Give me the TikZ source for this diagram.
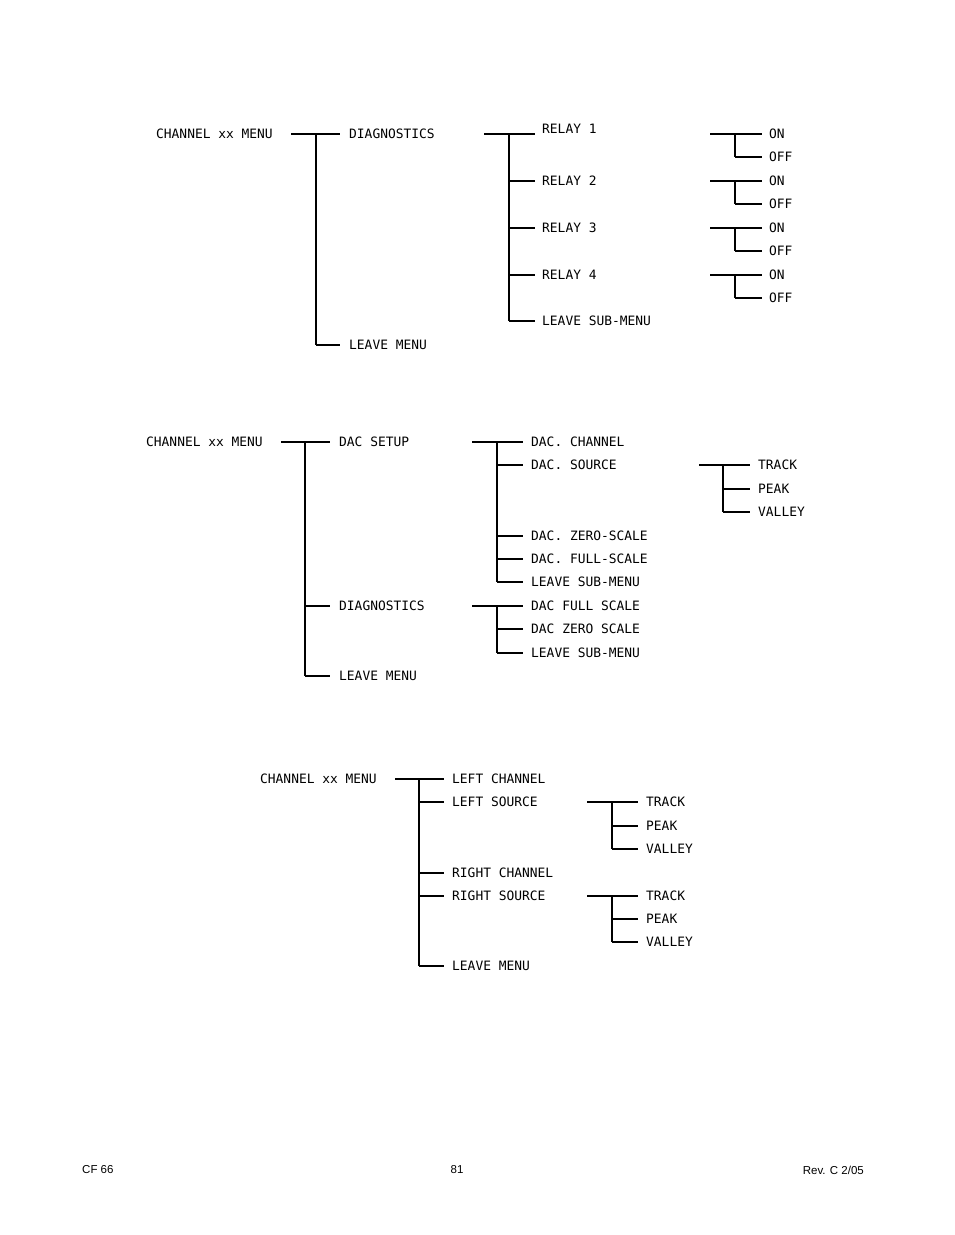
\documentclass[tikz,border=0pt]{standalone}
\usepackage{fontspec}
\newfontfamily\menufont{DejaVu Sans Mono}
\newfontfamily\footfont{Liberation Sans}
\tikzset{
  lbl/.style={anchor=west,inner sep=0pt,font=\menufont\fontsize{12.9}{13}\selectfont},
  ft/.style={inner sep=0pt,font=\footfont\fontsize{11.5}{12}\selectfont},
  tr/.style={line width=1.1pt}
}
\newcommand\fork[6]{%
  \draw[tr] (#1,#4) -- (#3,#4);
  \draw[tr] (#2,#4) -- (#2,#5);
  \foreach \yy in {#6} {\draw[tr] (#2,\yy) -- (#3,\yy);}
}
\begin{document}
\begin{tikzpicture}[x=1pt,y=-1pt]
\useasboundingbox (0,0) rectangle (954,1235);
% ---------- diagram 1
\node[lbl] (a0) at (156,134) {CHANNEL xx MENU};
\fork{291}{316}{340}{134}{345}{345}
\node[lbl] (a1) at (349,134) {DIAGNOSTICS};
\node[lbl] (a2) at (349,345) {LEAVE MENU};
\fork{484}{509}{535}{134}{321}{181,228,275,321}
\node[lbl] (r1) at (542,129) {RELAY 1};
\node[lbl] (r2) at (542,181) {RELAY 2};
\node[lbl] (r3) at (542,228) {RELAY 3};
\node[lbl] (r4) at (542,275) {RELAY 4};
\node[lbl] (r5) at (542,321) {LEAVE SUB-MENU};
\foreach \y [count=\i] in {134,181,228,275} {
  \fork{710}{735}{762}{\y}{\y+23}{\y+23}
  \node[lbl] (on\i) at (769,\y) {ON};
  \node[lbl] (off\i) at (769,\y+23) {OFF};
}
% ---------- diagram 2
\node[lbl] (b0) at (146,442) {CHANNEL xx MENU};
\fork{281}{305}{330}{442}{676}{606,676}
\node[lbl] (b1) at (339,442) {DAC SETUP};
\node[lbl] (b2) at (339,606) {DIAGNOSTICS};
\node[lbl] (b3) at (339,676) {LEAVE MENU};
\fork{472}{497}{523}{442}{582}{465,536,559,582}
\node[lbl] (c1) at (531,442) {DAC. CHANNEL};
\node[lbl] (c2) at (531,465) {DAC. SOURCE};
\node[lbl] (c3) at (531,536) {DAC. ZERO-SCALE};
\node[lbl] (c4) at (531,559) {DAC. FULL-SCALE};
\node[lbl] (c5) at (531,582) {LEAVE SUB-MENU};
\fork{699}{723}{750}{465}{512}{489,512}
\node[lbl] (d1) at (758,465) {TRACK};
\node[lbl] (d2) at (758,489) {PEAK};
\node[lbl] (d3) at (758,512) {VALLEY};
\fork{472}{497}{523}{606}{653}{629,653}
\node[lbl] (e1) at (531,606) {DAC FULL SCALE};
\node[lbl] (e2) at (531,629) {DAC ZERO SCALE};
\node[lbl] (e3) at (531,653) {LEAVE SUB-MENU};
% ---------- diagram 3
\node[lbl] (f0) at (260,779) {CHANNEL xx MENU};
\fork{395}{419}{444}{779}{966}{802,873,896,966}
\node[lbl] (f1) at (452,779) {LEFT CHANNEL};
\node[lbl] (f2) at (452,802) {LEFT SOURCE};
\node[lbl] (f3) at (452,873) {RIGHT CHANNEL};
\node[lbl] (f4) at (452,896) {RIGHT SOURCE};
\node[lbl] (f5) at (452,966) {LEAVE MENU};
\fork{587}{612}{638}{802}{849}{826,849}
\node[lbl] (g1) at (646,802) {TRACK};
\node[lbl] (g2) at (646,826) {PEAK};
\node[lbl] (g3) at (646,849) {VALLEY};
\fork{587}{612}{638}{896}{942}{919,942}
\node[lbl] (h1) at (646,896) {TRACK};
\node[lbl] (h2) at (646,919) {PEAK};
\node[lbl] (h3) at (646,942) {VALLEY};
% ---------- footer
\node[ft,anchor=west] (p1) at (82,1170) {CF 66};
\node[ft] (p2) at (457,1170) {81};
\node[ft,anchor=east] (p3) at (864,1170) {Rev. C 2/05};
\end{tikzpicture}
\end{document}
